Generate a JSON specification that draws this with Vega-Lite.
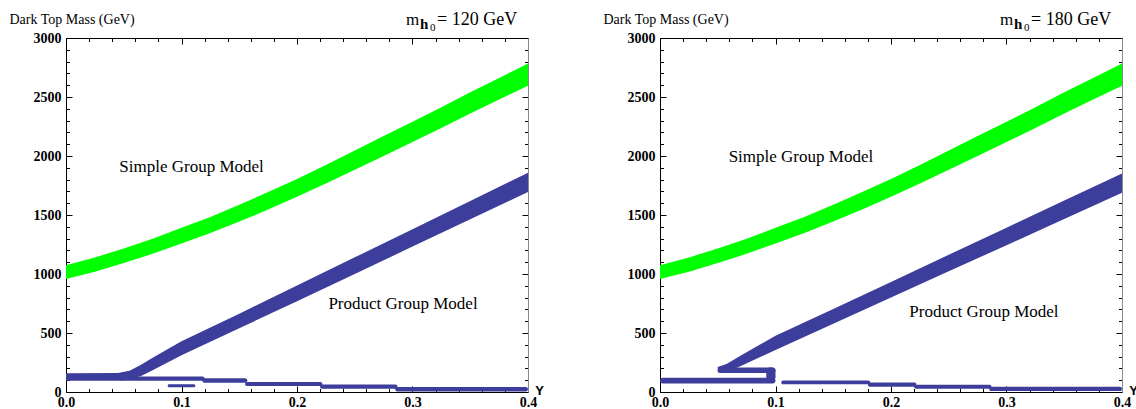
{
  "$schema": "https://vega.github.io/schema/vega-lite/v6.json",
  "background": "white",
  "autosize": {"type": "pad"},
  "padding": {"left": 9, "top": 11, "right": 0, "bottom": 0},
  "spacing": 132,
  "bounds": "flush",
  "config": {
    "view": {"stroke": null},
    "font": "Liberation Serif",
    "axis": {
      "grid": false, "tickSize": 0, "tickColor": "#000", "tickWidth": 1,
      "domainColor": "#000", "domainWidth": 1,
      "labelFont": "Liberation Serif", "labelFontSize": 14, "labelFontWeight": "bold", "labelColor": "#000",
      "labelOverlap": false, "labelFlush": false,
      "titleColor": "#000", "titleFont": "Liberation Serif"
    },
    "text": {"font": "Liberation Serif", "color": "#000"}
  },
  "datasets": {
    "green": [
      {"x": 0.000, "lo": 958, "hi": 1075}, {"x": 0.025, "lo": 1020, "hi": 1140},
      {"x": 0.050, "lo": 1093, "hi": 1217}, {"x": 0.075, "lo": 1171, "hi": 1299},
      {"x": 0.100, "lo": 1259, "hi": 1391}, {"x": 0.125, "lo": 1347, "hi": 1483},
      {"x": 0.150, "lo": 1444, "hi": 1586}, {"x": 0.175, "lo": 1546, "hi": 1694},
      {"x": 0.200, "lo": 1654, "hi": 1806}, {"x": 0.225, "lo": 1766, "hi": 1924},
      {"x": 0.250, "lo": 1883, "hi": 2047}, {"x": 0.275, "lo": 2001, "hi": 2169},
      {"x": 0.300, "lo": 2119, "hi": 2291}, {"x": 0.325, "lo": 2237, "hi": 2413},
      {"x": 0.350, "lo": 2360, "hi": 2540}, {"x": 0.375, "lo": 2478, "hi": 2662},
      {"x": 0.400, "lo": 2596, "hi": 2784}
    ],
    "prodL": [
      {"x": 0, "lo": 95, "hi": 158}, {"x": 0.045, "lo": 96, "hi": 160},
      {"x": 0.055, "lo": 105, "hi": 180}, {"x": 0.065, "lo": 135, "hi": 230},
      {"x": 0.075, "lo": 185, "hi": 290}, {"x": 0.1, "lo": 312, "hi": 430},
      {"x": 0.15, "lo": 540, "hi": 664}, {"x": 0.2, "lo": 770, "hi": 902},
      {"x": 0.25, "lo": 1001, "hi": 1141}, {"x": 0.3, "lo": 1232, "hi": 1380},
      {"x": 0.35, "lo": 1463, "hi": 1619}, {"x": 0.4, "lo": 1694, "hi": 1858}
    ],
    "prodR": [
      {"x": 0.05, "lo": 165, "hi": 212}, {"x": 0.058, "lo": 170, "hi": 240},
      {"x": 0.07, "lo": 220, "hi": 310}, {"x": 0.1, "lo": 356, "hi": 476},
      {"x": 0.15, "lo": 579, "hi": 703}, {"x": 0.2, "lo": 801, "hi": 933},
      {"x": 0.25, "lo": 1023, "hi": 1163}, {"x": 0.3, "lo": 1244, "hi": 1392},
      {"x": 0.35, "lo": 1466, "hi": 1622}, {"x": 0.4, "lo": 1688, "hi": 1852}
    ],
    "lowL": [
      {"x": 0.045, "x2": 0.12, "lo": 96, "hi": 132},
      {"x": 0.118, "x2": 0.157, "lo": 78, "hi": 117},
      {"x": 0.155, "x2": 0.222, "lo": 50, "hi": 84},
      {"x": 0.22, "x2": 0.287, "lo": 28, "hi": 63},
      {"x": 0.285, "x2": 0.4, "lo": 5, "hi": 42},
      {"x": 0.088, "x2": 0.112, "lo": 40, "hi": 66}
    ],
    "lowR": [
      {"x": 0, "x2": 0.1, "lo": 72, "hi": 120},
      {"x": 0.05, "x2": 0.1, "lo": 160, "hi": 208},
      {"x": 0.092, "x2": 0.1, "lo": 100, "hi": 208},
      {"x": 0.105, "x2": 0.182, "lo": 65, "hi": 98},
      {"x": 0.18, "x2": 0.222, "lo": 45, "hi": 80},
      {"x": 0.22, "x2": 0.287, "lo": 28, "hi": 62},
      {"x": 0.285, "x2": 0.4, "lo": 8, "hi": 44}
    ],
    "labL": [
      {"label": "Simple Group Model", "x": 0.1087, "y": 1909},
      {"label": "Product Group Model", "x": 0.2918, "y": 743}
    ],
    "labR": [
      {"label": "Simple Group Model", "x": 0.122, "y": 1991},
      {"label": "Product Group Model", "x": 0.2805, "y": 678}
    ]
  },
  "hconcat": [
    {
      "width": 462, "height": 354,
      "resolve": {"axis": {"x": "independent", "y": "independent"}},
      "layer": [
        {
          "data": {"name": "green"},
          "mark": {"type": "area", "color": "#00ff00"},
          "encoding": {
            "x": {"field": "x", "type": "quantitative", "scale": {"domain": [0, 0.4], "nice": false, "zero": false},
              "axis": {"orient": "bottom", "values": [0,0.02,0.04,0.06,0.08,0.1,0.12,0.14,0.16,0.18,0.2,0.22,0.24,0.26,0.28,0.3,0.32,0.34,0.36,0.38,0.4],
                "labelExpr": "abs(datum.value*10 - round(datum.value*10)) < 0.001 ? format(datum.value, '.1f') : ''",
                "labelPadding": 3, "labelFont": "Liberation Serif", "labelFontSize": 14, "labelFontWeight": "bold",
                "title": "Y", "titleX": 473, "titleY": -2, "titleAlign": "center", "titleBaseline": "middle", "titleAngle": 0,
                "titleFont": "Liberation Sans", "titleFontSize": 13, "titleFontWeight": "bold",
                "encoding": {"ticks": {"y2": {"condition": {"test": "abs(datum.value*10 - round(datum.value*10)) < 0.001", "value": -6}, "value": -3.5}}}}},
            "y": {"field": "lo", "type": "quantitative", "scale": {"domain": [0, 3000], "nice": false, "zero": false},
              "axis": {"orient": "left", "values": [0,100,200,300,400,500,600,700,800,900,1000,1100,1200,1300,1400,1500,1600,1700,1800,1900,2000,2100,2200,2300,2400,2500,2600,2700,2800,2900,3000],
                "labelExpr": "datum.value % 500 === 0 ? format(datum.value, 'd') : ''",
                "labelPadding": 5, "labelFont": "Liberation Serif", "labelFontSize": 14, "labelFontWeight": "bold",
                "title": "Dark Top Mass (GeV)", "titleX": -57, "titleY": -19, "titleAlign": "left", "titleBaseline": "middle", "titleAngle": 0,
                "titleFont": "Liberation Serif", "titleFontSize": 14, "titleFontWeight": "normal",
                "encoding": {"ticks": {"x2": {"condition": {"test": "datum.value % 500 === 0", "value": 6}, "value": 3.5}}}}},
            "y2": {"field": "hi"}
          }
        },
        {
          "data": {"name": "prodL"},
          "mark": {"type": "area", "color": "#3d3d9b"},
          "encoding": {
            "x": {"field": "x", "type": "quantitative", "scale": {"domain": [0, 0.4], "nice": false, "zero": false}, "axis": null},
            "y": {"field": "lo", "type": "quantitative", "scale": {"domain": [0, 3000], "nice": false, "zero": false}, "axis": null},
            "y2": {"field": "hi"}
          }
        },
        {
          "data": {"name": "lowL"},
          "mark": {"type": "rect", "color": "#3d3d9b", "cornerRadius": 3},
          "encoding": {
            "x": {"field": "x", "type": "quantitative", "scale": {"domain": [0, 0.4], "nice": false, "zero": false}, "axis": null},
            "x2": {"field": "x2"},
            "y": {"field": "lo", "type": "quantitative", "scale": {"domain": [0, 3000], "nice": false, "zero": false}, "axis": null},
            "y2": {"field": "hi"}
          }
        },
        {
          "data": {"name": "labL"},
          "mark": {"type": "text", "fontSize": 17, "align": "center", "baseline": "middle"},
          "encoding": {
            "x": {"field": "x", "type": "quantitative", "scale": {"domain": [0, 0.4], "nice": false, "zero": false},
              "axis": {"orient": "top", "labels": false, "title": null, "values": [0,0.02,0.04,0.06,0.08,0.1,0.12,0.14,0.16,0.18,0.2,0.22,0.24,0.26,0.28,0.3,0.32,0.34,0.36,0.38,0.4],
                "encoding": {"ticks": {"y2": {"condition": {"test": "abs(datum.value*10 - round(datum.value*10)) < 0.001", "value": 6}, "value": 3.5}}}}},
            "y": {"field": "y", "type": "quantitative", "scale": {"domain": [0, 3000], "nice": false, "zero": false},
              "axis": {"orient": "right", "labels": false, "title": null, "domainColor": "#8a8a8a", "values": [0,100,200,300,400,500,600,700,800,900,1000,1100,1200,1300,1400,1500,1600,1700,1800,1900,2000,2100,2200,2300,2400,2500,2600,2700,2800,2900,3000],
                "encoding": {"ticks": {"x2": {"condition": {"test": "datum.value % 500 === 0", "value": -6}, "value": -3.5}}}}},
            "text": {"field": "label"}
          }
        },
        {
          "data": {"values": [{"t": "m"}]},
          "mark": {"type": "text", "fontSize": 17, "align": "left", "baseline": "alphabetic", "dx": -122, "dy": -13},
          "encoding": {"x": {"datum": 0.4, "type": "quantitative", "axis": null}, "y": {"datum": 3000, "type": "quantitative", "axis": null}, "text": {"field": "t"}}
        },
        {
          "data": {"values": [{"t": "h"}]},
          "mark": {"type": "text", "fontSize": 15, "fontWeight": "bold", "align": "left", "baseline": "alphabetic", "dx": -108, "dy": -9},
          "encoding": {"x": {"datum": 0.4, "type": "quantitative", "axis": null}, "y": {"datum": 3000, "type": "quantitative", "axis": null}, "text": {"field": "t"}}
        },
        {
          "data": {"values": [{"t": "0"}]},
          "mark": {"type": "text", "fontSize": 11, "align": "left", "baseline": "alphabetic", "dx": -98, "dy": -7},
          "encoding": {"x": {"datum": 0.4, "type": "quantitative", "axis": null}, "y": {"datum": 3000, "type": "quantitative", "axis": null}, "text": {"field": "t"}}
        },
        {
          "data": {"values": [{"t": "= 120 GeV"}]},
          "mark": {"type": "text", "fontSize": 18, "align": "left", "baseline": "alphabetic", "dx": -91, "dy": -13},
          "encoding": {"x": {"datum": 0.4, "type": "quantitative", "axis": null}, "y": {"datum": 3000, "type": "quantitative", "axis": null}, "text": {"field": "t"}}
        }
      ]
    },
    {
      "width": 462, "height": 354,
      "resolve": {"axis": {"x": "independent", "y": "independent"}},
      "layer": [
        {
          "data": {"name": "green"},
          "mark": {"type": "area", "color": "#00ff00"},
          "encoding": {
            "x": {"field": "x", "type": "quantitative", "scale": {"domain": [0, 0.4], "nice": false, "zero": false},
              "axis": {"orient": "bottom", "values": [0,0.02,0.04,0.06,0.08,0.1,0.12,0.14,0.16,0.18,0.2,0.22,0.24,0.26,0.28,0.3,0.32,0.34,0.36,0.38,0.4],
                "labelExpr": "abs(datum.value*10 - round(datum.value*10)) < 0.001 ? format(datum.value, '.1f') : ''",
                "labelPadding": 3, "labelFont": "Liberation Serif", "labelFontSize": 14, "labelFontWeight": "bold",
                "title": "Y", "titleX": 473, "titleY": -2, "titleAlign": "center", "titleBaseline": "middle", "titleAngle": 0,
                "titleFont": "Liberation Sans", "titleFontSize": 13, "titleFontWeight": "bold",
                "encoding": {"ticks": {"y2": {"condition": {"test": "abs(datum.value*10 - round(datum.value*10)) < 0.001", "value": -6}, "value": -3.5}}}}},
            "y": {"field": "lo", "type": "quantitative", "scale": {"domain": [0, 3000], "nice": false, "zero": false},
              "axis": {"orient": "left", "values": [0,100,200,300,400,500,600,700,800,900,1000,1100,1200,1300,1400,1500,1600,1700,1800,1900,2000,2100,2200,2300,2400,2500,2600,2700,2800,2900,3000],
                "labelExpr": "datum.value % 500 === 0 ? format(datum.value, 'd') : ''",
                "labelPadding": 5, "labelFont": "Liberation Serif", "labelFontSize": 14, "labelFontWeight": "bold",
                "title": "Dark Top Mass (GeV)", "titleX": -57, "titleY": -19, "titleAlign": "left", "titleBaseline": "middle", "titleAngle": 0,
                "titleFont": "Liberation Serif", "titleFontSize": 14, "titleFontWeight": "normal",
                "encoding": {"ticks": {"x2": {"condition": {"test": "datum.value % 500 === 0", "value": 6}, "value": 3.5}}}}},
            "y2": {"field": "hi"}
          }
        },
        {
          "data": {"name": "prodR"},
          "mark": {"type": "area", "color": "#3d3d9b"},
          "encoding": {
            "x": {"field": "x", "type": "quantitative", "scale": {"domain": [0, 0.4], "nice": false, "zero": false}, "axis": null},
            "y": {"field": "lo", "type": "quantitative", "scale": {"domain": [0, 3000], "nice": false, "zero": false}, "axis": null},
            "y2": {"field": "hi"}
          }
        },
        {
          "data": {"name": "lowR"},
          "mark": {"type": "rect", "color": "#3d3d9b", "cornerRadius": 3},
          "encoding": {
            "x": {"field": "x", "type": "quantitative", "scale": {"domain": [0, 0.4], "nice": false, "zero": false}, "axis": null},
            "x2": {"field": "x2"},
            "y": {"field": "lo", "type": "quantitative", "scale": {"domain": [0, 3000], "nice": false, "zero": false}, "axis": null},
            "y2": {"field": "hi"}
          }
        },
        {
          "data": {"name": "labR"},
          "mark": {"type": "text", "fontSize": 17, "align": "center", "baseline": "middle"},
          "encoding": {
            "x": {"field": "x", "type": "quantitative", "scale": {"domain": [0, 0.4], "nice": false, "zero": false},
              "axis": {"orient": "top", "labels": false, "title": null, "values": [0,0.02,0.04,0.06,0.08,0.1,0.12,0.14,0.16,0.18,0.2,0.22,0.24,0.26,0.28,0.3,0.32,0.34,0.36,0.38,0.4],
                "encoding": {"ticks": {"y2": {"condition": {"test": "abs(datum.value*10 - round(datum.value*10)) < 0.001", "value": 6}, "value": 3.5}}}}},
            "y": {"field": "y", "type": "quantitative", "scale": {"domain": [0, 3000], "nice": false, "zero": false},
              "axis": {"orient": "right", "labels": false, "title": null, "domainColor": "#8a8a8a", "values": [0,100,200,300,400,500,600,700,800,900,1000,1100,1200,1300,1400,1500,1600,1700,1800,1900,2000,2100,2200,2300,2400,2500,2600,2700,2800,2900,3000],
                "encoding": {"ticks": {"x2": {"condition": {"test": "datum.value % 500 === 0", "value": -6}, "value": -3.5}}}}},
            "text": {"field": "label"}
          }
        },
        {
          "data": {"values": [{"t": "m"}]},
          "mark": {"type": "text", "fontSize": 17, "align": "left", "baseline": "alphabetic", "dx": -122, "dy": -13},
          "encoding": {"x": {"datum": 0.4, "type": "quantitative", "axis": null}, "y": {"datum": 3000, "type": "quantitative", "axis": null}, "text": {"field": "t"}}
        },
        {
          "data": {"values": [{"t": "h"}]},
          "mark": {"type": "text", "fontSize": 15, "fontWeight": "bold", "align": "left", "baseline": "alphabetic", "dx": -108, "dy": -9},
          "encoding": {"x": {"datum": 0.4, "type": "quantitative", "axis": null}, "y": {"datum": 3000, "type": "quantitative", "axis": null}, "text": {"field": "t"}}
        },
        {
          "data": {"values": [{"t": "0"}]},
          "mark": {"type": "text", "fontSize": 11, "align": "left", "baseline": "alphabetic", "dx": -98, "dy": -7},
          "encoding": {"x": {"datum": 0.4, "type": "quantitative", "axis": null}, "y": {"datum": 3000, "type": "quantitative", "axis": null}, "text": {"field": "t"}}
        },
        {
          "data": {"values": [{"t": "= 180 GeV"}]},
          "mark": {"type": "text", "fontSize": 18, "align": "left", "baseline": "alphabetic", "dx": -91, "dy": -13},
          "encoding": {"x": {"datum": 0.4, "type": "quantitative", "axis": null}, "y": {"datum": 3000, "type": "quantitative", "axis": null}, "text": {"field": "t"}}
        }
      ]
    }
  ]
}
